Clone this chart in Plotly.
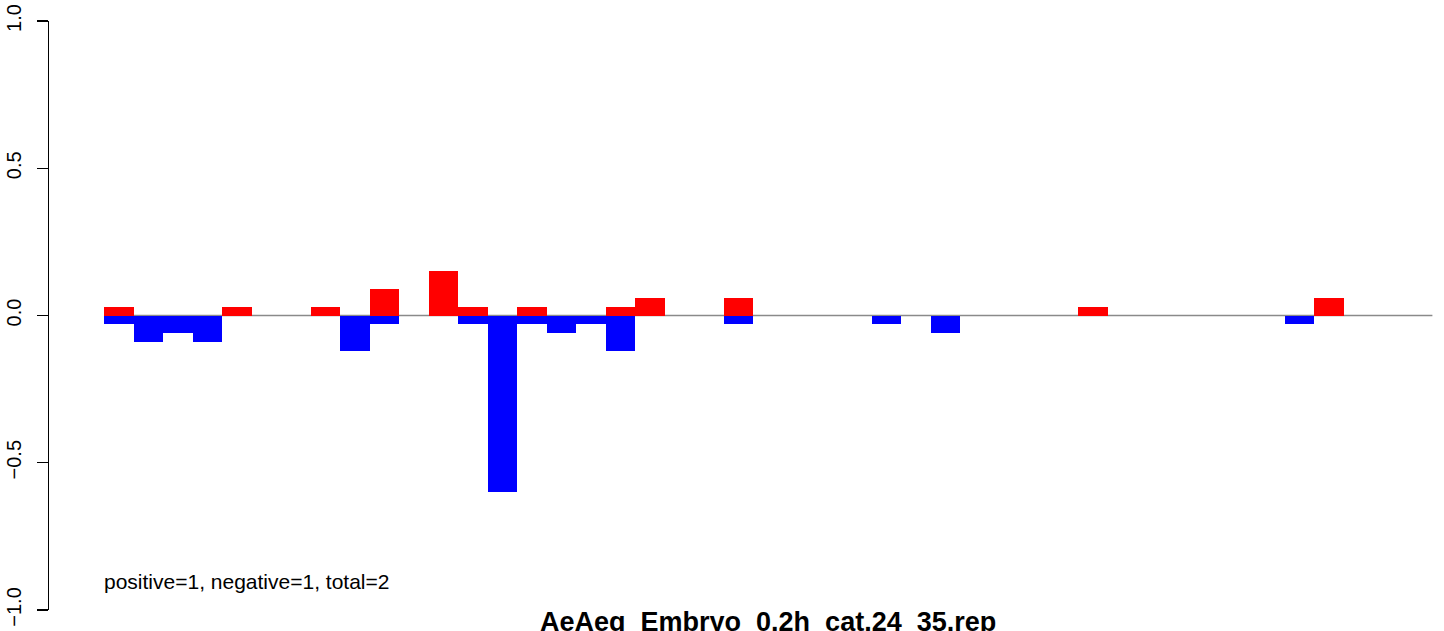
import plotly.graph_objects as go

# 45 bins (index 0..44)
n_bins = 45
pos_bins = [0, 4, 7, 9, 11, 12, 14, 17, 18, 21, 33, 41]
pos_vals = [0.03, 0.03, 0.03, 0.09, 0.15, 0.03, 0.03, 0.03, 0.06, 0.06, 0.03, 0.06]
neg_bins = [0, 1, 2, 3, 8, 9, 12, 13, 14, 15, 16, 17, 21, 26, 28, 40]
neg_vals = [-0.03, -0.09, -0.06, -0.09, -0.12, -0.03, -0.03, -0.60, -0.03, -0.06,
            -0.03, -0.12, -0.03, -0.03, -0.06, -0.03]
y_tickvals = [-1.0, -0.5, 0.0, 0.5, 1.0]
y_ticktext = ["\u22121.0", "\u22120.5", "0.0", "0.5", "1.0"]
title_text = "AeAeg_Embryo_0.2h_cat.24_35.rep"
note_text = "positive=1, negative=1, total=2"

W, H = 1444, 631
L, R, T, B = 49, 10, 21, 21
x0_px, bw_px = 104.0, 29.52
xr = [(L - x0_px) / bw_px, (W - R - x0_px) / bw_px]
ph = H - T - B

FONT = "Liberation Sans, Arial, Helvetica, sans-serif"

fig = go.Figure()
fig.add_trace(go.Bar(x=[b + 0.5 for b in pos_bins], y=pos_vals, width=1,
                     marker=dict(color="#FF0000", line=dict(width=0)), showlegend=False))
fig.add_trace(go.Bar(x=[b + 0.5 for b in neg_bins], y=neg_vals, width=1,
                     marker=dict(color="#0000FF", line=dict(width=0)), showlegend=False))

fig.add_shape(type="line", xref="x", yref="y", x0=0, x1=n_bins, y0=0, y1=0,
              line=dict(color="#8a8a8a", width=1.3), layer="below")

fig.add_annotation(x=-0.07, y=(H - B - 581) / ph, xref="x", yref="paper", text=note_text,
                   showarrow=False, xanchor="left", yanchor="middle",
                   font=dict(family=FONT, size=21, color="black"))
fig.add_annotation(x=n_bins / 2, y=(H - B - 622) / ph, xref="x", yref="paper",
                   text="<b>" + title_text + "</b>", showarrow=False,
                   xanchor="center", yanchor="middle",
                   font=dict(family=FONT, size=27, color="black"))

fig.update_layout(
    width=W, height=H, margin=dict(l=L, r=R, t=T, b=B, autoexpand=False),
    paper_bgcolor="white", plot_bgcolor="white",
    barmode="overlay", bargap=0,
    font=dict(family=FONT, size=20, color="black"),
    xaxis=dict(range=xr, visible=False, fixedrange=True, automargin=False),
    yaxis=dict(range=[-1, 1], tickvals=y_tickvals, ticktext=y_ticktext, tickangle=-90,
               showline=True, linecolor="black", linewidth=1.3, ticks="outside", ticklen=11,
               tickwidth=1.3, tickcolor="black", showgrid=False, zeroline=False,
               automargin=False, fixedrange=True,
               tickfont=dict(family=FONT, size=20, color="black"), ticklabelstandoff=8),
)
fig.write_html("out.html", config={"displayModeBar": False, "staticPlot": True},
               post_script="document.body.style.margin='0';document.body.style.overflow='hidden';")
